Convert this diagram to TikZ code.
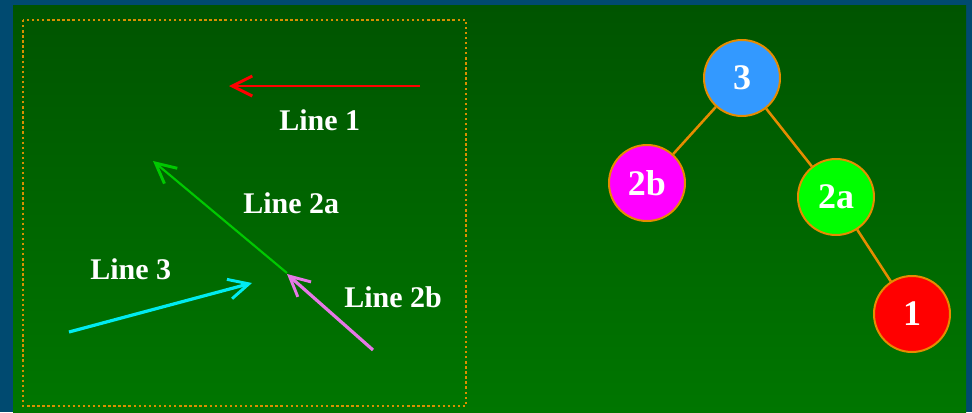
\documentclass[tikz,border=0pt]{standalone}
\usepackage{fontspec}
\setmainfont{Liberation Serif}
\usetikzlibrary{arrows.meta}
\definecolor{bgblue}{RGB}{0,74,112}
\definecolor{gtop}{RGB}{0,84,0}
\definecolor{gbot}{RGB}{0,118,0}
\definecolor{edgeor}{RGB}{230,140,0}
\definecolor{dotor}{RGB}{216,144,0}
\definecolor{lgreen}{RGB}{0,200,0}
\definecolor{lcyan}{RGB}{0,235,240}
\definecolor{lviolet}{RGB}{230,120,230}
\definecolor{nblue}{RGB}{51,153,255}
\definecolor{nmag}{RGB}{255,0,255}
\definecolor{ngreen}{RGB}{0,255,0}
\definecolor{nred}{RGB}{255,0,0}
\tikzset{
  lbl/.style={anchor=base west,inner sep=0pt,text=white,font=\fontsize{22.5}{26}\selectfont\bfseries},
  tnode/.style={circle,draw=edgeor,line width=1.5pt,minimum size=57pt,inner sep=0pt,text=white,font=\fontsize{27}{30}\selectfont\bfseries},
  tedge/.style={draw=edgeor,line width=1.9pt},
  arr/.style={-{Straight Barb[length=15pt,width=15pt,line width=2.2pt]}},
}
\begin{document}
\begin{tikzpicture}[x=0.75pt,y=-0.75pt]
\useasboundingbox (0,0) rectangle (972,412);
\fill[bgblue] (0,0) rectangle (972,412);
\shade[top color=gtop,bottom color=gbot] (13,5) rectangle (966,412);
\draw[dotor,dotted,line width=1.8pt] (23,20) rectangle (466,406);

% line arrows
\coordinate (r1) at (420,86);
\coordinate (r2) at (229,86);
\coordinate (g1) at (287,273);
\coordinate (g2) at (153,161);
\coordinate (c1) at (69,332);
\coordinate (c2) at (252,283);
\coordinate (v1) at (373,350);
\coordinate (v2) at (287,274);
\draw[arr,red,line width=1.6pt] (r1) -- (r2);
\draw[arr,lgreen,line width=1.6pt] (g1) -- (g2);
\draw[arr,lcyan,line width=2.4pt] (c1) -- (c2);
\draw[arr,lviolet,line width=2.4pt] (v1) -- (v2);

\node[lbl] (l1) at (279,130) {Line 1};
\node[lbl] (l2a) at (243,213) {Line 2a};
\node[lbl] (l3) at (90,279) {Line 3};
\node[lbl] (l2b) at (344,307) {Line 2b};

% tree
\node[tnode,fill=nblue] (n3) at (742,78) {3};
\node[tnode,fill=nmag] (n2b) at (647,183) {2b};
\node[tnode,fill=ngreen] (n2a) at (836,197) {2a};
\node[tnode,fill=nred] (n1) at (912,314) {1};
\draw[tedge] (n3) -- (n2b);
\draw[tedge] (n3) -- (n2a);
\draw[tedge] (n2a) -- (n1);
\end{tikzpicture}
\end{document}
